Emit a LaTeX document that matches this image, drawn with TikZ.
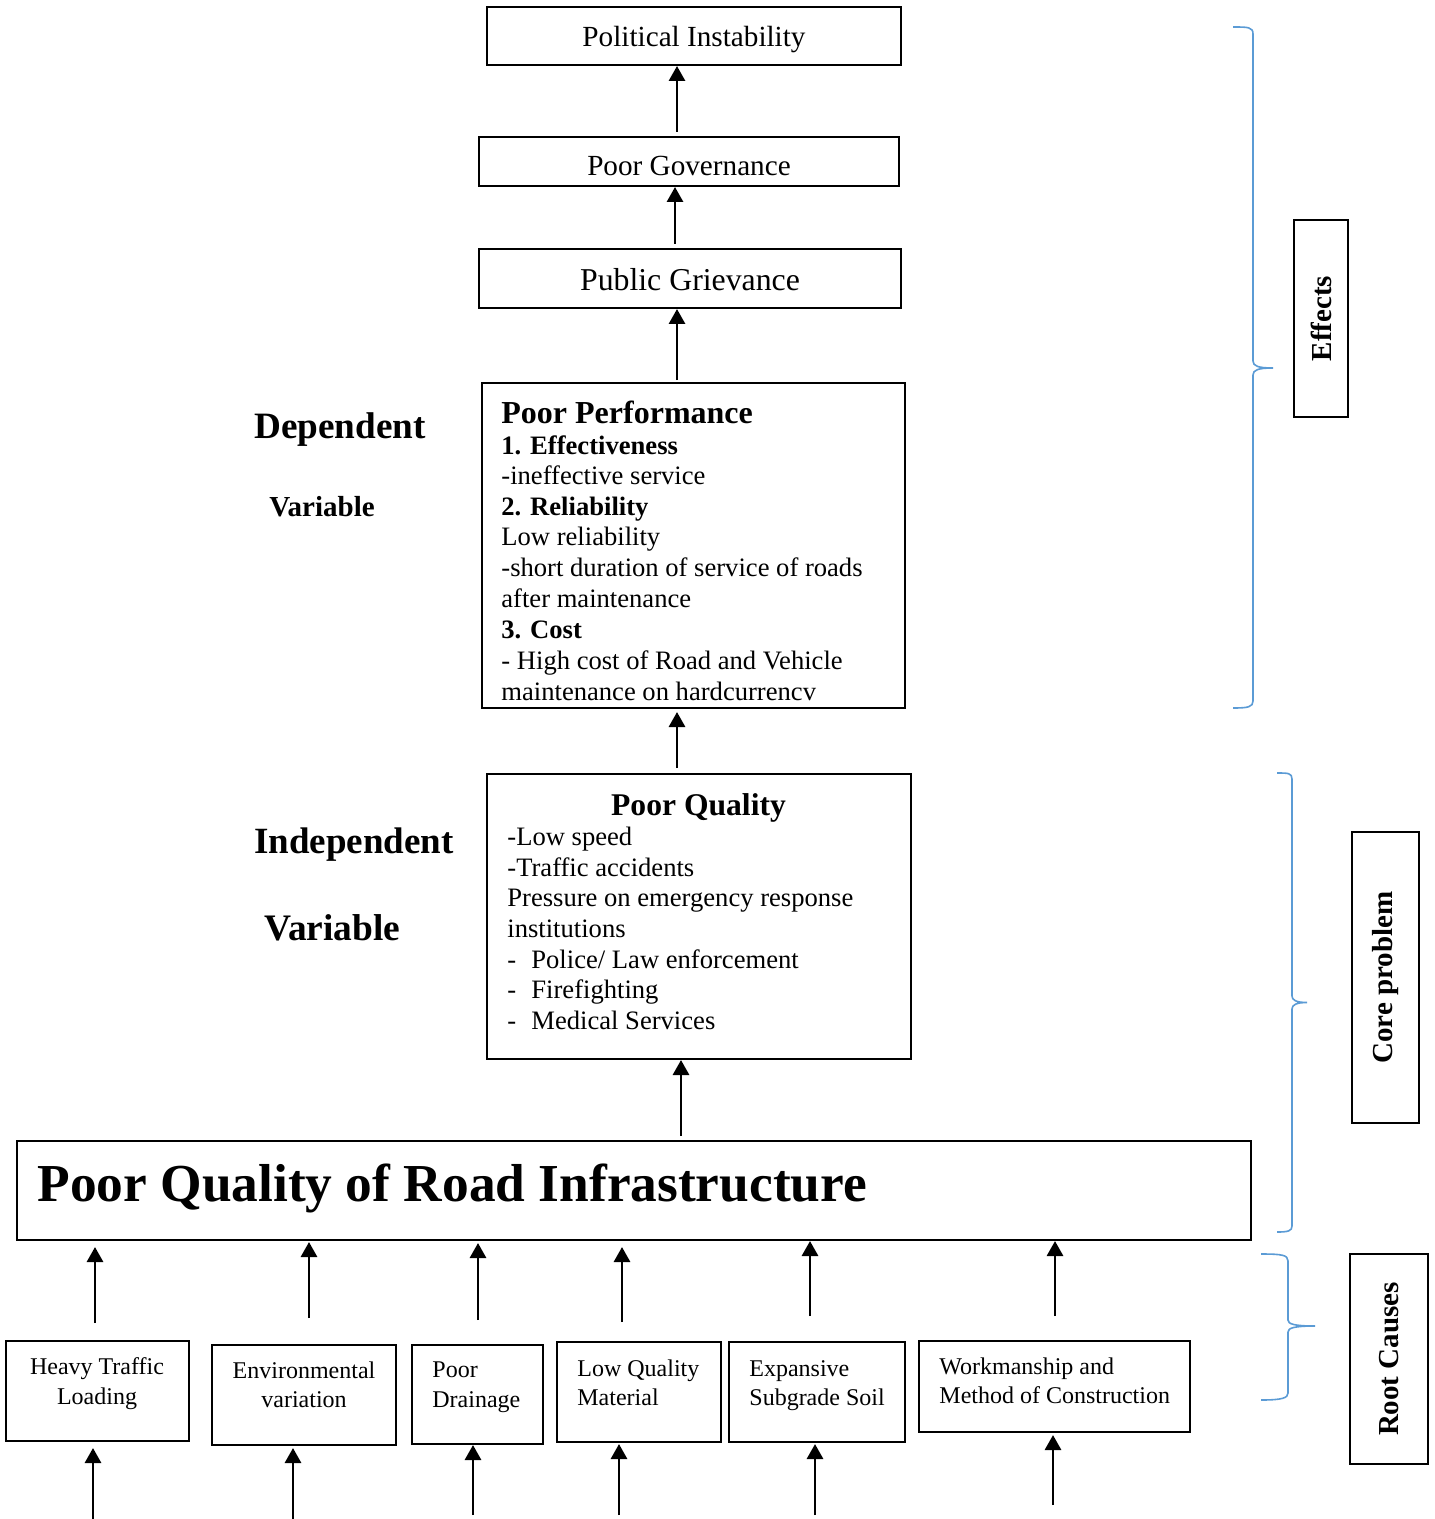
\documentclass[tikz,border=0pt]{standalone}
\usepackage{fontspec}
\setmainfont{Liberation Serif}
\usetikzlibrary{arrows.meta,fit}
\definecolor{bracecol}{RGB}{91,155,213}
\newcommand\myfs[1]{\fontsize{#1}{#1}\selectfont}
\tikzset{
  box/.style={draw, line width=0.55pt, inner sep=0pt},
  bigbox/.style={draw, line width=1.1pt, inner sep=0pt},
  arr/.style={line width=1.45pt, -{Triangle[length=7.5pt,width=8pt]}},
  brc/.style={draw=bracecol, line width=0.8pt},
  ln/.style={anchor=base west, inner sep=0pt, font=\myfs{13.3}},
  lnb/.style={ln, font=\myfs{13.3}\bfseries},
  lnc/.style={anchor=base, inner sep=0pt, font=\myfs{12}},
  lnl/.style={anchor=base west, inner sep=0pt, font=\myfs{12}},
  side/.style={anchor=base west, inner sep=0pt, font=\bfseries},
  rot/.style={rotate=90, inner sep=0pt, font=\myfs{14.5}\bfseries},
}
\begin{document}
\begin{tikzpicture}[x=0.5pt,y=-0.5pt]
\useasboundingbox (0,0) rectangle (1434,1519);

% ---------- top chain ----------
\node[box, fit={(487,7)(901,65)}] (pi) {};
\node[anchor=base, inner sep=0pt, font=\myfs{14.6}] (piT) at (694,47) {Political Instability};
\node[box, fit={(479,137)(899,186)}] (pg) {};
\node[anchor=base, inner sep=0pt, font=\myfs{14.6}] (pgT) at (689,175.5) {Poor Governance};
\node[box, fit={(479,249)(901,308)}] (pub) {};
\node[anchor=base, inner sep=0pt, font=\myfs{15.9}] (pubT) at (690,290.5) {Public Grievance};

% ---------- Poor Performance ----------
\node[box, fit={(482,383)(905,708)}] (perf) {};
\node[ln, font=\myfs{16}\bfseries] (p1) at (501,423.5) {Poor Performance};
\node[lnb] (p2) at (501,454.5) {1. Effectiveness};
\node[ln]  (p3) at (501,484.5) {-ineffective service};
\node[lnb] (p4) at (501,515) {2. Reliability};
\node[ln]  (p5) at (501,545.5) {Low reliability};
\node[ln]  (p6) at (501,576.5) {-short duration of service of roads};
\node[ln]  (p7) at (501,607.5) {after maintenance};
\node[lnb] (p8) at (501,638.5) {3. Cost};
\node[ln]  (p9) at (501,669.5) {- High cost of Road and Vehicle};
\node[ln]  (p10) at (501,700) {maintenance on hardcurrencv};

\node[side, font=\myfs{18.6}\bfseries] (dep1) at (254,438.5) {Dependent};
\node[side, font=\myfs{14.5}\bfseries] (dep2) at (269,516.5) {Variable};

% ---------- Poor Quality ----------
\node[box, fit={(487,774)(911,1059)}] (pq) {};
\node[anchor=base, inner sep=0pt, font=\myfs{15.8}\bfseries] (q1) at (698.5,815) {Poor Quality};
\node[ln] (q2) at (507,845.5) {-Low speed};
\node[ln] (q3) at (507,876) {-Traffic accidents};
\node[ln] (q4) at (507,906.5) {Pressure on emergency response};
\node[ln] (q5) at (507,937.5) {institutions};
\node[ln] (q6a) at (507,968) {-};
\node[ln] (q6) at (531,968) {Police/ Law enforcement};
\node[ln] (q7a) at (507,998.5) {-};
\node[ln] (q7) at (531,998.5) {Firefighting};
\node[ln] (q8a) at (507,1029.5) {-};
\node[ln] (q8) at (531,1029.5) {Medical Services};

\node[side, font=\myfs{18.5}\bfseries] (ind1) at (254,853.5) {Independent};
\node[side, font=\myfs{18.7}\bfseries] (ind2) at (264,940.5) {Variable};

% ---------- core box ----------
\node[bigbox, fit={(17,1141)(1251,1240)}] (core) {};
\node[anchor=base west, inner sep=0pt, font=\myfs{26.7}\bfseries] (coreT) at (37,1201.5) {Poor Quality of Road Infrastructure};

% ---------- root causes ----------
\node[box, fit={(6,1341)(189,1441)}] (r1) {};
\node[lnc] at (97,1374.5) {Heavy Traffic};
\node[lnc] at (97,1404) {Loading};
\node[box, fit={(212,1345)(396,1445)}] (r2) {};
\node[lnc] at (304,1378) {Environmental};
\node[lnc] at (304,1407.5) {variation};
\node[box, fit={(412,1345)(543,1444)}] (r3) {};
\node[lnl] at (432,1377.5) {Poor};
\node[lnl] at (432,1407.5) {Drainage};
\node[box, fit={(557,1342)(721,1442)}] (r4) {};
\node[lnl] at (577,1376) {Low Quality};
\node[lnl] at (577,1405.5) {Material};
\node[box, fit={(729,1342)(905,1442)}] (r5) {};
\node[lnl] at (749,1376) {Expansive};
\node[lnl] at (749,1405.5) {Subgrade Soil};
\node[box, fit={(919,1341)(1190,1432)}] (r6) {};
\node[lnl] at (939,1374) {Workmanship and};
\node[lnl] at (939,1403.5) {Method of Construction};

% ---------- side labels ----------
\node[box, fit={(1294,220)(1348,417)}] (effbox) {};
\node[rot] at (effbox.center) {Effects};
\node[box, fit={(1352,832)(1419,1123)}] (corebox) {};
\node[rot] at (corebox.center) {Core problem};
\node[box, fit={(1350,1254)(1428,1464)}] (rootbox) {};
\node[rot] at (rootbox.center) {Root Causes};

% ---------- arrows ----------
\coordinate (a1s) at (677,132); \coordinate (a1e) at (677,66);
\coordinate (a2s) at (675,244); \coordinate (a2e) at (675,187);
\coordinate (a3s) at (677,380); \coordinate (a3e) at (677,309);
\coordinate (a4s) at (677,768); \coordinate (a4e) at (677,712);
\coordinate (a5s) at (681,1136); \coordinate (a5e) at (681,1060);
\draw[arr] (a1s) -- (a1e);
\draw[arr] (a2s) -- (a2e);
\draw[arr] (a3s) -- (a3e);
\draw[arr] (a4s) -- (a4e);
\draw[arr] (a5s) -- (a5e);

\foreach \n/\x/\ys/\ye in {1/95/1323/1247, 2/309/1318/1242, 3/478/1320/1243, 4/622/1322/1247, 5/810/1316/1241, 6/1055/1316/1241}{
  \coordinate (u\n s) at (\x,\ys);
  \coordinate (u\n e) at (\x,\ye);
  \draw[arr] (u\n s) -- (u\n e);
}
\foreach \n/\x/\ys/\ye in {1/93/1519/1448, 2/293/1519/1448, 3/473/1515/1445, 4/619/1515/1444, 5/815/1515/1444, 6/1053/1505/1435}{
  \coordinate (b\n s) at (\x,\ys);
  \coordinate (b\n e) at (\x,\ye);
  \draw[arr] (b\n s) -- (b\n e);
}

% ---------- braces ----------
\path[brc] (1233,27) .. controls (1248,27) and (1253,27) .. (1253,34) -- (1253,361)
  .. controls (1253,366) and (1258,368) .. (1273,368)
  .. controls (1258,368) and (1253,370) .. (1253,375) -- (1253,701)
  .. controls (1253,707) and (1248,708) .. (1233,708);
\path[brc] (1277,773) .. controls (1288,773) and (1292,773) .. (1292,779) -- (1292,996)
  .. controls (1292,1000) and (1296,1002.5) .. (1307,1002.5)
  .. controls (1296,1002.5) and (1292,1005) .. (1292,1009) -- (1292,1226)
  .. controls (1292,1231) and (1288,1232) .. (1277,1232);
\path[brc] (1261,1254) .. controls (1282,1254) and (1288,1255) .. (1288,1261) -- (1288,1320)
  .. controls (1288,1324) and (1294,1326) .. (1315,1326)
  .. controls (1294,1326) and (1288,1328) .. (1288,1332) -- (1288,1393)
  .. controls (1288,1398) and (1282,1400) .. (1261,1400);
\end{tikzpicture}
\end{document}
